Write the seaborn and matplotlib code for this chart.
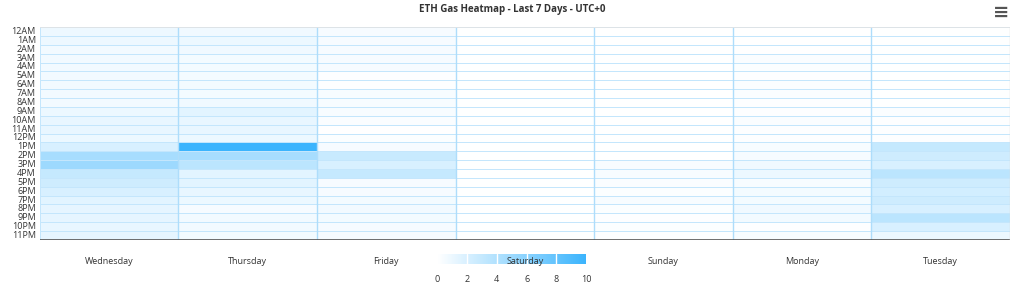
import numpy as np
import pandas as pd
import matplotlib
matplotlib.use("Agg")
import matplotlib.pyplot as plt
import seaborn as sns
from matplotlib.colors import LinearSegmentedColormap

days = ["Wednesday", "Thursday", "Friday", "Saturday", "Sunday", "Monday", "Tuesday"]
hours = ["12AM", "1AM", "2AM", "3AM", "4AM", "5AM", "6AM", "7AM", "8AM", "9AM", "10AM", "11AM",
         "12PM", "1PM", "2PM", "3PM", "4PM", "5PM", "6PM", "7PM", "8PM", "9PM", "10PM", "11PM"]

wednesday = [0.9, 0.9, 0.7, 0.7, 0.7, 0.7, 0.7, 0.7, 0.7, 1.0, 1.2, 1.2,
             1.0, 2.0, 4.5, 5.0, 3.0, 2.5, 2.0, 1.5, 1.3, 1.3, 1.2, 1.3]
thursday = [0.8, 1.0, 0.8, 0.6, 0.6, 0.6, 0.6, 0.6, 0.8, 1.5, 1.2, 1.2,
            1.0, 10.0, 4.5, 3.5, 1.5, 1.5, 1.2, 1.0, 0.5, 0.7, 0.7, 0.6]
friday = [0.5, 0.5, 0.5, 0.5, 0.5, 0.1, 0.1, 0.4, 0.4, 0.4, 0.3, 0.0,
          0.2, 0.5, 2.8, 2.0, 3.0, 0.5, 0.5, 0.6, 0.7, 0.6, 0.5, 0.5]
saturday = [0.05, 0.05, 0.05, 0.05, 0.05, 0.05, 0.05, 0.05, 0.05, 0.05, 0.05, 0.05,
            0.05, 0.05, 0.05, 0.05, 0.05, 0.05, 0.05, 0.05, 0.05, 0.05, 0.05, 0.05]
sunday = [0.0, 0.0, 0.0, 0.0, 0.0, 0.0, 0.0, 0.0, 0.0, 0.0, 0.0, 0.0,
          0.0, 0.0, 0.0, 0.4, 0.4, 0.3, 0.2, 0.4, 0.2, 0.1, 0.2, 0.1]
monday = [0.0, 0.0, 0.0, 0.3, 0.2, 0.1, 0.3, 0.3, 0.1, 0.1, 0.3, 0.1,
          0.1, 0.4, 0.5, 0.8, 1.0, 0.4, 0.6, 0.6, 0.8, 0.7, 0.1, 0.4]
tuesday = [0.05, 0.05, 0.05, 0.05, 0.05, 0.05, 0.05, 0.05, 0.05, 0.3, 0.1, 0.1,
           0.1, 3.0, 2.5, 2.0, 3.5, 2.5, 2.3, 2.5, 2.0, 3.5, 2.0, 1.0]

cbar_ticks = [0, 2, 4, 6, 8, 10]

df = pd.DataFrame({"Wednesday": wednesday, "Thursday": thursday, "Friday": friday,
                   "Saturday": saturday, "Sunday": sunday, "Monday": monday,
                   "Tuesday": tuesday}, index=hours)[days]

sns.set_theme(style="white")
plt.rcParams["font.family"] = ["Open Sans", "DejaVu Sans"]

cmap = LinearSegmentedColormap.from_list("gas", ["#FFFFFF", "#3BB4FD"])

fig = plt.figure(figsize=(10.24, 2.85), dpi=100)
ax = fig.add_axes([0.039, 0.158, 0.947, 0.747])
cax = fig.add_axes([0.427, 0.074, 0.1455, 0.035])
ax.set_zorder(3)

sns.heatmap(df, ax=ax, cmap=cmap, vmin=0, vmax=10, linewidths=0.7,
            linecolor="#C4E6FC", cbar=True, cbar_ax=cax,
            xticklabels=True, yticklabels=True,
            cbar_kws={"orientation": "horizontal", "ticks": cbar_ticks})

# column separators
ax.vlines(np.arange(1, len(days)), 0, len(hours), colors="#AEDDFB", linewidth=1.0)
ax.axhline(len(hours), color="#555555", linewidth=1.2)
ax.axhline(0, color="#E3E3E3", linewidth=1.2)
ax.axvline(len(days), color="#DDDDDD", linewidth=1.0)

ax.set_xlabel("")
ax.set_ylabel("")
ax.tick_params(axis="both", length=0)
ax.tick_params(axis="y", pad=3, labelsize=6.5, labelcolor="#333333", rotation=0)
ax.tick_params(axis="x", pad=12, labelsize=6.5, labelcolor="#333333", rotation=0)
for lab in ax.get_yticklabels():
    lab.set_verticalalignment("center")

cax.tick_params(length=0, labelsize=6.5, colors="#333333", pad=8)
for v in cbar_ticks[1:-1]:
    cax.axvline(v, color="white", linewidth=1.0)
cax.set_frame_on(False)
cax.patch.set_alpha(0)

fig.text(0.5, 0.965, "ETH Gas Heatmap - Last 7 Days - UTC+0", ha="center", va="center",
         fontsize=7, fontweight="bold", color="#333333")
fig.text(0.978, 0.955, "≡", ha="center", va="center", fontsize=14,
         fontweight="bold", color="#555555", family="DejaVu Sans")

fig.savefig("out.png", dpi=100)
